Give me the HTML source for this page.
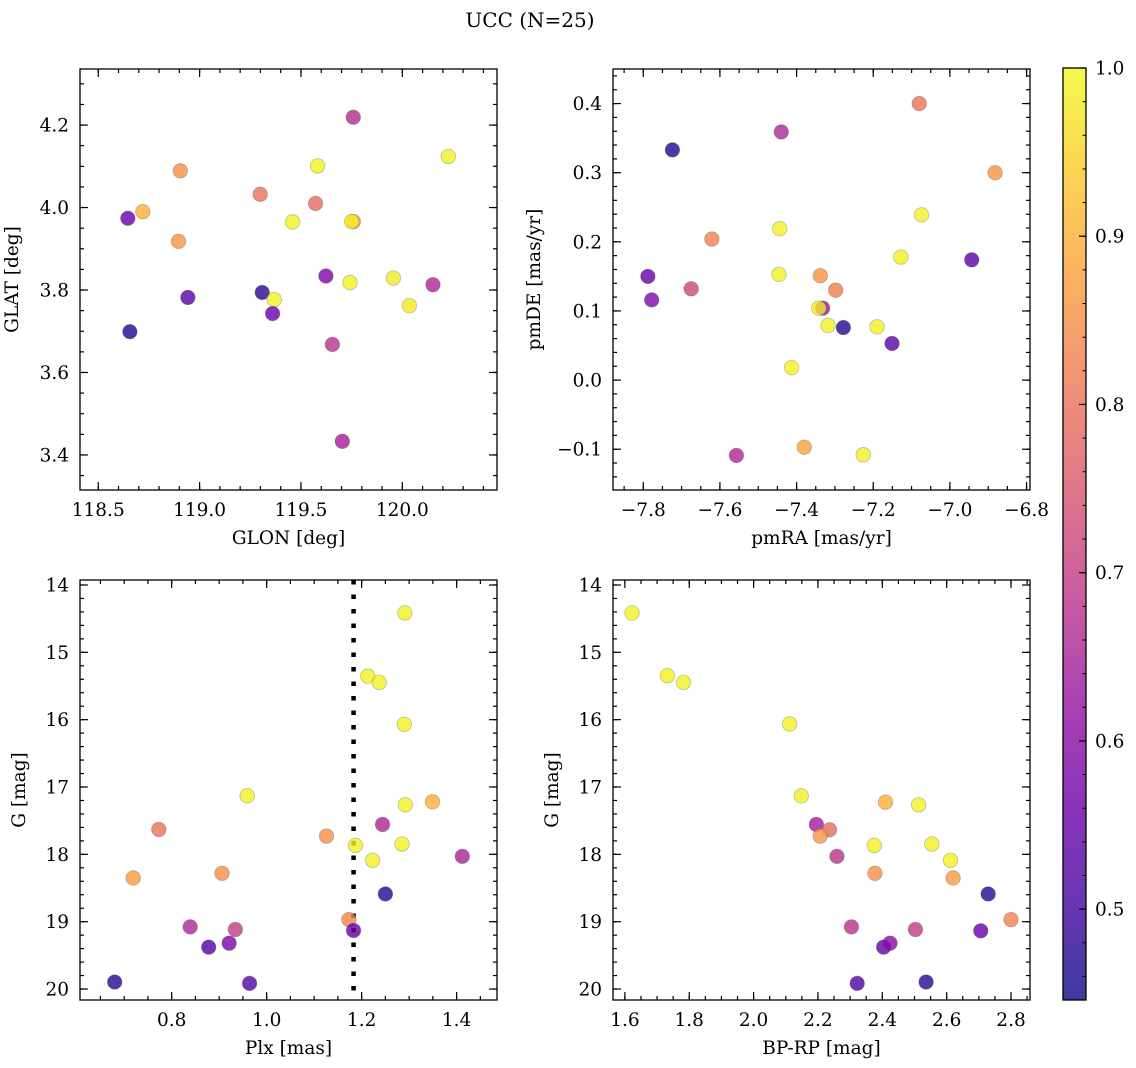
<!DOCTYPE html>
<html><head><meta charset="utf-8"><style>
body{margin:0;background:#fff}
svg{display:block;font-family:"DejaVu Serif","Liberation Serif",serif}
</style></head><body>
<svg id="fig" width="1136" height="1068" viewBox="0 0 1136 1068" xmlns="http://www.w3.org/2000/svg">
<rect width="1136" height="1068" fill="#fff"/>
<text x="530" y="27" font-size="20" text-anchor="middle">UCC (N=25)</text>
</svg>
<script>
// Panel 1: GLON vs GLAT
const glonValues=[119.758,120.227,119.582,118.905,119.299,119.572,118.720,118.646,119.459,119.758,119.750,118.896,119.623,119.742,119.956,120.151,120.035,119.309,119.368,119.360,118.942,118.656,119.655,119.704];
const glatValues=[4.219,4.124,4.101,4.089,4.032,4.010,3.990,3.974,3.965,3.966,3.966,3.918,3.834,3.818,3.829,3.813,3.762,3.794,3.777,3.743,3.782,3.699,3.668,3.433];
const p1Colors=[0.67,0.99,0.99,0.85,0.80,0.79,0.90,0.55,0.99,0.85,0.99,0.86,0.58,0.99,0.98,0.66,0.98,0.47,0.99,0.55,0.53,0.46,0.68,0.64];
// Panel 2: pmRA vs pmDE
const pmraValues=[-7.080,-7.440,-7.724,-6.882,-7.074,-7.444,-7.621,-7.128,-6.943,-7.788,-7.446,-7.338,-7.675,-7.298,-7.778,-7.332,-7.342,-7.318,-7.278,-7.190,-7.151,-7.413,-7.380,-7.557,-7.226];
const pmdeValues=[0.400,0.359,0.333,0.300,0.239,0.219,0.204,0.178,0.174,0.150,0.153,0.151,0.132,0.130,0.116,0.104,0.104,0.079,0.076,0.077,0.053,0.018,-0.097,-0.109,-0.108];
const p2Colors=[0.80,0.66,0.46,0.86,0.99,0.99,0.83,0.99,0.53,0.55,0.99,0.86,0.72,0.82,0.59,0.62,0.98,0.99,0.47,0.99,0.53,0.99,0.88,0.66,0.99];
// Panel 3: Plx vs G
const plxValues=[1.291,1.213,1.237,1.290,0.959,1.292,1.349,1.244,0.773,1.126,1.187,1.285,1.223,1.412,0.719,0.906,1.250,1.173,1.183,0.839,0.934,0.878,0.921,0.680,0.964];
const gValues=[14.415,15.353,15.447,16.069,17.131,17.264,17.220,17.556,17.630,17.728,17.867,17.847,18.089,18.030,18.351,18.281,18.588,18.968,19.131,19.077,19.116,19.378,19.319,19.896,19.916];
const p3Colors=[0.99,0.99,0.99,0.99,0.99,0.99,0.90,0.66,0.80,0.85,0.99,0.99,0.99,0.65,0.87,0.85,0.47,0.83,0.55,0.66,0.70,0.52,0.58,0.47,0.52];
const plxLine=[1.183];
// Panel 4: BP-RP vs G
const bprpValues=[1.622,1.732,1.782,2.112,2.148,2.410,2.513,2.195,2.236,2.207,2.375,2.554,2.259,2.612,2.377,2.620,2.729,2.800,2.304,2.503,2.706,2.404,2.424,2.322,2.536];
const g4Values=[14.415,15.348,15.447,16.064,17.131,17.225,17.264,17.556,17.635,17.728,17.867,17.847,18.030,18.089,18.281,18.351,18.588,18.968,19.077,19.116,19.136,19.378,19.319,19.916,19.896];
const p4Colors=[0.99,0.99,0.99,0.99,0.99,0.90,0.99,0.64,0.79,0.86,0.99,0.99,0.68,0.99,0.85,0.87,0.47,0.83,0.68,0.70,0.55,0.55,0.60,0.52,0.47];
// Tick labels
const p1XTicks=[118.5,119.0,119.5,120.0];
const p1YTicks=[3.4,3.6,3.8,4.0,4.2];
const p2XTicks=[-7.8,-7.6,-7.4,-7.2,-7.0,-6.8];
const p2YTicks=[-0.1,0.0,0.1,0.2,0.3,0.4];
const p3XTicks=[0.8,1.0,1.2,1.4];
const gTicks=[14,15,16,17,18,19,20];
const p4XTicks=[1.6,1.8,2.0,2.2,2.4,2.6,2.8];
const cbTicks=[0.5,0.6,0.7,0.8,0.9,1.0];
const cMin=0.446,cMax=1.0;

const NS='http://www.w3.org/2000/svg';
const svg=document.getElementById('fig');
function mk(tag,attrs,parent){const e=document.createElementNS(NS,tag);for(const k in attrs)e.setAttribute(k,attrs[k]);(parent||svg).appendChild(e);return e;}
const stops=['#0d0887','#41049d','#6a00a8','#8f0da4','#b12a90','#cc4778','#e16462','#f2844b','#fca636','#fcce25','#f0f921'];
function hex(h){return [1,3,5].map(i=>parseInt(h.substr(i,2),16));}
function plasma(t){t=Math.max(0,Math.min(1,t));const f=t*10,i=Math.min(9,Math.floor(f)),u=f-i;const a=hex(stops[i]),b=hex(stops[i+1]);return 'rgb('+a.map((v,k)=>Math.round(v+(b[k]-v)*u)).join(',')+')';}
function cmap(c){return plasma((c-cMin)/(cMax-cMin));}
function fmt(v,d){return (v<0?'\u2212':'')+Math.abs(v).toFixed(d);}
const FS=18.5;

function panel(o){
  const g=mk('g',{});
  
  
  const X=v=>o.x0+(v-o.xmin)/(o.xmax-o.xmin)*(o.x1-o.x0);
  const Y=v=>o.yinv? o.y0+(v-o.ymin)/(o.ymax-o.ymin)*(o.y1-o.y0) : o.y1-(v-o.ymin)/(o.ymax-o.ymin)*(o.y1-o.y0);
  const tg=mk('g',{stroke:'#000','stroke-width':1.2},g);
  
  
  const lo=Math.min(o.xmin,o.xmax),hi=Math.max(o.xmin,o.xmax);
  for(let k=Math.ceil(lo/o.xminor-1e-6);k*o.xminor<=hi+1e-9;k++){const px=X(k*o.xminor);mk('line',{x1:px,x2:px,y1:o.y1,y2:o.y1-4},tg);mk('line',{x1:px,x2:px,y1:o.y0,y2:o.y0+4},tg);}
  const ylo=Math.min(o.ymin,o.ymax),yhi=Math.max(o.ymin,o.ymax);
  for(let k=Math.ceil(ylo/o.yminor-1e-6);k*o.yminor<=yhi+1e-9;k++){const py=Y(k*o.yminor);mk('line',{x1:o.x0,x2:o.x0+4,y1:py,y2:py},tg);mk('line',{x1:o.x1,x2:o.x1-4,y1:py,y2:py},tg);}
  o.xt.forEach(v=>{const px=X(v);mk('line',{x1:px,x2:px,y1:o.y1,y2:o.y1-8},tg);mk('line',{x1:px,x2:px,y1:o.y0,y2:o.y0+8},tg);
    const t=mk('text',{x:px,y:o.y1+26,'font-size':FS,'text-anchor':'middle'},g);t.textContent=fmt(v,o.xd);
    });
  o.yt.forEach(v=>{const py=Y(v);mk('line',{x1:o.x0,x2:o.x0+8,y1:py,y2:py},tg);mk('line',{x1:o.x1,x2:o.x1-8,y1:py,y2:py},tg);
    const t=mk('text',{x:o.x0-11,y:py+6.5,'font-size':FS,'text-anchor':'end'},g);t.textContent=fmt(v,o.yd);
    });
  const xl=mk('text',{x:(o.x0+o.x1)/2,y:o.y1+54,'font-size':FS,'text-anchor':'middle'},g);xl.textContent=o.xlabel;
  
  const yx=o.x0-o.ylOff,yy=(o.y0+o.y1)/2;
  const yl=mk('text',{x:yx,y:yy,'font-size':FS,'text-anchor':'middle',transform:'rotate(-90 '+yx+' '+yy+')'},g);yl.textContent=o.ylabel;
  
  if(o.vline!==undefined){const px=X(o.vline);const l=mk('line',{x1:px,x2:px,y1:o.y0,y2:o.y1,stroke:'#000','stroke-width':4.5,'stroke-dasharray':'4.5 10'},g);
    }
  const pg=mk('g',{},g);
  o.xs.forEach((v,i)=>{const c=mk('circle',{cx:X(v),cy:Y(o.ys[i]),r:7.3,fill:cmap(o.cs[i]),'fill-opacity':0.8,stroke:'#555','stroke-opacity':0.35,'stroke-width':0.8},pg);
    });
  const fr=mk('rect',{x:o.x0,y:o.y0,width:o.x1-o.x0,height:o.y1-o.y0,fill:'none',stroke:'#000','stroke-width':1.3},g);
  
}
panel({name:'glon-glat-panel',x0:80,x1:497,y0:69,y1:490,xmin:118.410,xmax:120.467,ymin:3.315,ymax:4.336,xt:p1XTicks,yt:p1YTicks,xd:1,yd:1,xminor:0.1,yminor:0.05,xlabel:'GLON [deg]',ylabel:'GLAT [deg]',ylOff:62,xs:glonValues,ys:glatValues,cs:p1Colors});
panel({name:'pm-panel',x0:613,x1:1030,y0:69,y1:490,xmin:-7.879,xmax:-6.791,ymin:-0.159,ymax:0.450,xt:p2XTicks,yt:p2YTicks,xd:1,yd:1,xminor:0.05,yminor:0.02,xlabel:'pmRA [mas/yr]',ylabel:'pmDE [mas/yr]',ylOff:73,xs:pmraValues,ys:pmdeValues,cs:p2Colors});
panel({name:'plx-g-panel',x0:80,x1:497,y0:580,y1:1000,xmin:0.607,xmax:1.485,ymin:13.926,ymax:20.163,yinv:true,xt:p3XTicks,yt:gTicks,xd:1,yd:0,xminor:0.05,yminor:0.2,xlabel:'Plx [mas]',ylabel:'G [mag]',ylOff:55,xs:plxValues,ys:gValues,cs:p3Colors,vline:plxLine[0]});
panel({name:'cmd-panel',x0:613,x1:1030,y0:580,y1:1000,xmin:1.563,xmax:2.859,ymin:13.926,ymax:20.163,yinv:true,xt:p4XTicks,yt:gTicks,xd:1,yd:0,xminor:0.05,yminor:0.2,xlabel:'BP-RP [mag]',ylabel:'G [mag]',ylOff:55,xs:bprpValues,ys:g4Values,cs:p4Colors});

const cb=mk('g',{});


const defs=mk('defs',{},cb);
const lg=mk('linearGradient',{id:'cbg',x1:0,y1:1,x2:0,y2:0},defs);
for(let i=0;i<=20;i++){mk('stop',{offset:i/20,'stop-color':plasma(i/20)},lg);}
const cx0=1063,cx1=1086,cy0=68,cy1=1000;
mk('rect',{x:cx0,y:cy0,width:cx1-cx0,height:cy1-cy0,fill:'url(#cbg)','fill-opacity':0.8},cb);
const CY=v=>cy1-(v-cMin)/(cMax-cMin)*(cy1-cy0);
for(let k=23;k<=50;k++){const py=CY(k*0.02);mk('line',{x1:cx1,x2:cx1-3.5,y1:py,y2:py,stroke:'#000','stroke-width':1},cb);}
cbTicks.forEach(v=>{const py=CY(v);mk('line',{x1:cx1,x2:cx1-7,y1:py,y2:py,stroke:'#000','stroke-width':1.2},cb);
  const t=mk('text',{x:cx1+9,y:py+6.5,'font-size':FS},cb);t.textContent=v.toFixed(1);
  });
mk('rect',{x:cx0,y:cy0,width:cx1-cx0,height:cy1-cy0,fill:'none',stroke:'#000','stroke-width':1.3},cb);
</script>
</body></html>
